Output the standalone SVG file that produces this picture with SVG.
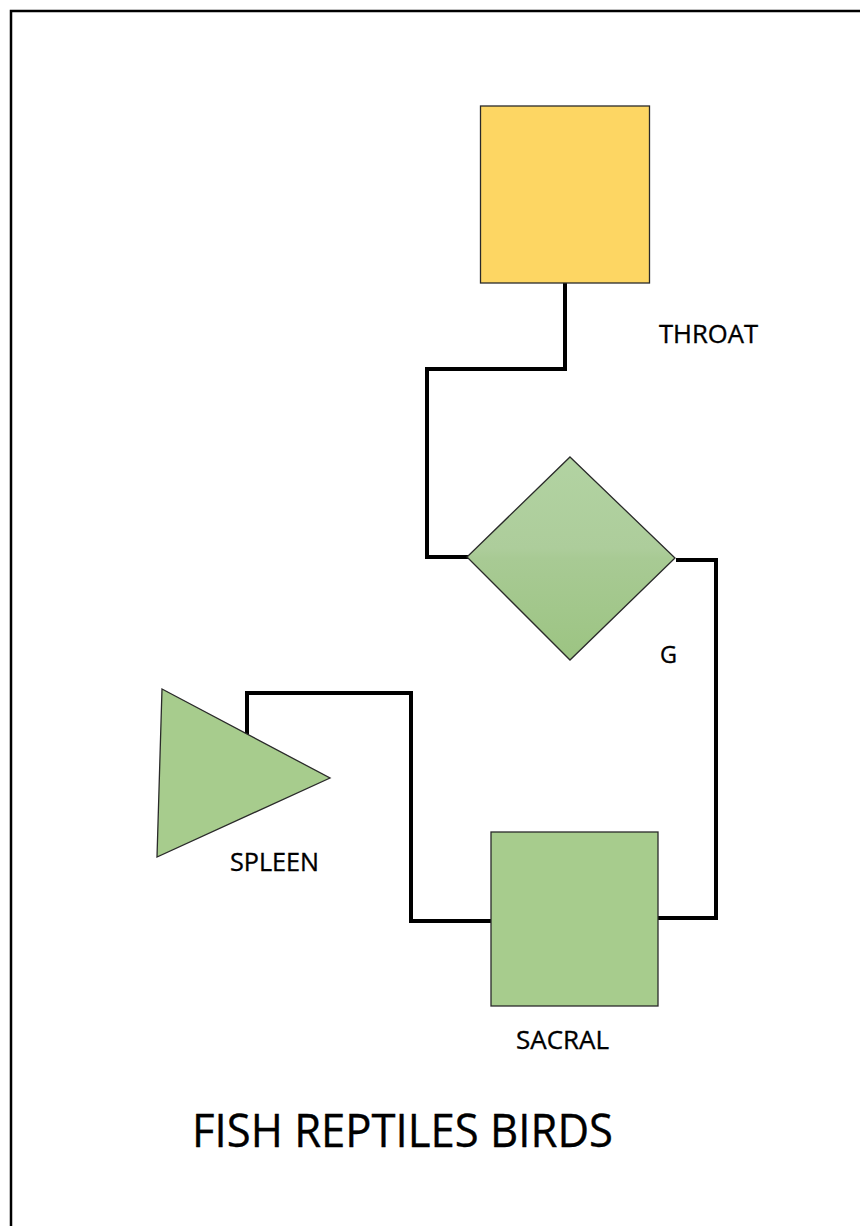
<svg xmlns="http://www.w3.org/2000/svg" width="860" height="1226" viewBox="0 0 860 1226">
<defs>
<style>
.conn{fill:none;stroke:#000;stroke-width:4;stroke-linejoin:miter}
.node{stroke:#2a2a2a;stroke-width:1.3}
.lbl{font-family:"Open Sans","Liberation Sans",sans-serif;fill:#000;stroke:#000;stroke-width:0.35}
</style>
<linearGradient id="dg" x1="0" y1="0" x2="0" y2="1">
<stop offset="0" stop-color="#b2d3a2"/>
<stop offset="0.45" stop-color="#adcd9b"/>
<stop offset="0.5" stop-color="#a8ca94"/>
<stop offset="1" stop-color="#9cc482"/>
</linearGradient>
</defs>
<rect x="0" y="0" width="860" height="1226" fill="#fff"/>
<rect id="frame" x="11" y="11" width="880" height="1240" fill="none" stroke="#000" stroke-width="2.5"/>
<g id="connectors">
<polyline class="conn" points="565,283 565,369 427,369 427,557 468,557"/>
<polyline class="conn" points="676,560 716,560 716,918 658,918"/>
<polyline class="conn" points="247,740 247,693 411,693 411,921 491,921"/>
</g>
<g id="throat">
<rect class="node" x="480.5" y="106" width="169" height="177" fill="#fdd663"/>
<text class="lbl" x="659" y="343" font-size="25" textLength="99" lengthAdjust="spacingAndGlyphs">THROAT</text>
</g>
<g id="g">
<polygon class="node" points="570,457 675,558 570,660 467,557" fill="url(#dg)"/>
<text class="lbl" x="660" y="663" font-size="24" textLength="17" lengthAdjust="spacingAndGlyphs">G</text>
</g>
<g id="spleen">
<polygon class="node" points="162,689 330,778 157,857" fill="#a7cc8d"/>
<text class="lbl" x="230" y="871" font-size="25" textLength="89" lengthAdjust="spacingAndGlyphs">SPLEEN</text>
</g>
<g id="sacral">
<rect class="node" x="491" y="832" width="167" height="174" fill="#a7cc8d"/>
<text class="lbl" x="516" y="1049" font-size="25" textLength="93" lengthAdjust="spacingAndGlyphs">SACRAL</text>
</g>
<g id="title">
<text class="lbl" x="192" y="1147" font-size="46" textLength="421" lengthAdjust="spacingAndGlyphs" stroke-width="0.7">FISH REPTILES BIRDS</text>
</g>
</svg>
